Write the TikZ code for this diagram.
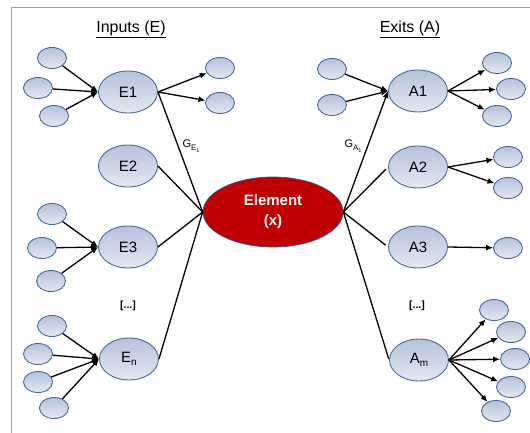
\documentclass[tikz,border=0pt]{standalone}
\usepackage{fontspec}
\setmainfont{Liberation Sans}
\usetikzlibrary{arrows.meta,shapes.geometric}
\definecolor{nodeedge}{HTML}{4A69A3}
\definecolor{nodetop}{HTML}{B6C2DA}
\definecolor{nodebot}{HTML}{E4E9F2}
\definecolor{elemred}{HTML}{C00000}
\definecolor{elemedge}{HTML}{3A4F8F}
\definecolor{frameblue}{HTML}{8AA3CC}
\newcommand{\gsub}[2]{G{\fontsize{8}{8}\selectfont\raisebox{-2.5pt}{#1\raisebox{-2pt}{\fontsize{5.5}{6}\selectfont #2}}}}
\begin{document}
\begin{tikzpicture}[x=1pt,y=-1pt,
  main/.style={ellipse, draw=nodeedge, line width=0.9pt, top color=nodetop, bottom color=nodebot,
    minimum width=59pt, minimum height=42pt, inner sep=0pt, font=\fontsize{15}{18}\selectfont},
  leaf/.style={ellipse, draw=nodeedge, line width=0.9pt, top color=nodetop, bottom color=nodebot,
    minimum width=29pt, minimum height=21pt, inner sep=0pt},
  centre/.style={ellipse, draw=elemedge, line width=0.7pt, fill=elemred, text=white,
    minimum width=140pt, minimum height=70pt, inner sep=0pt, align=center,
    font=\bfseries\fontsize{15}{20}\selectfont},
  title/.style={font=\fontsize{16}{18}\selectfont},
  gap/.style={font=\bfseries\fontsize{10.5}{12}\selectfont},
  glabel/.style={font=\fontsize{11}{12}\selectfont},
  link/.style={line width=1.3pt, black},
  arr/.style={link, -{Latex[length=7pt,width=6pt]}},
]
\useasboundingbox (0,0) rectangle (530,433);

% frame
\draw[frameblue, line width=1pt] (11,433) -- (11,8) -- (530,8);

% titles
\node[title] (tin) at (131,29) {\underline{Inputs (E)}};
\node[title] (tout) at (410,29) {\underline{Exits (A)}};

% central element
\node[centre] (X) at (273,212) {Element\\(x)};

% inputs
\node[main] (E1) at (128,92) {E1};
\node[main] (E2) at (128,166) {E2};
\node[main] (E3) at (128,247) {E3};
\node[main] (En) at (129,359) {E\raisebox{-3pt}{\fontsize{10}{10}\selectfont n}};
\node[gap] (edots) at (128,306) {[...]};

\node[leaf] (e1a) at (52,58) {};
\node[leaf] (e1b) at (38,88) {};
\node[leaf] (e1c) at (54,116) {};
\node[leaf] (e1o1) at (220,68) {};
\node[leaf] (e1o2) at (220,103) {};

\node[leaf] (e3a) at (52,214) {};
\node[leaf] (e3b) at (42,248) {};
\node[leaf] (e3c) at (51,281) {};

\node[leaf] (ena) at (52,326) {};
\node[leaf] (enb) at (38,354) {};
\node[leaf] (enc) at (38,382) {};
\node[leaf] (end) at (54,408) {};

% exits
\node[main] (A1) at (418,91) {A1};
\node[main] (A2) at (418,167) {A2};
\node[main] (A3) at (418,247) {A3};
\node[main] (Am) at (419,360) {A\raisebox{-3pt}{\fontsize{10}{10}\selectfont m}};
\node[gap] (adots) at (417,306) {[...]};

\node[leaf] (a1i1) at (332,69) {};
\node[leaf] (a1i2) at (332,105) {};
\node[leaf] (a1o1) at (497,63) {};
\node[leaf] (a1o2) at (511,89) {};
\node[leaf] (a1o3) at (497,116) {};

\node[leaf] (a2o1) at (508,157) {};
\node[leaf] (a2o2) at (508,188) {};

\node[leaf] (a3o1) at (508,248) {};

\node[leaf] (amo1) at (494,310) {};
\node[leaf] (amo2) at (511,332) {};
\node[leaf] (amo3) at (515,359) {};
\node[leaf] (amo4) at (511,387) {};
\node[leaf] (amo5) at (496,411) {};

% input side connectors
\foreach \s in {e1a,e1b,e1c} \draw[arr] (\s) -- (E1.west);
\foreach \t in {e1o1,e1o2} \draw[arr] (E1.east) -- (\t);
\foreach \s in {e3a,e3b,e3c} \draw[arr] (\s) -- (E3.west);
\foreach \s in {ena,enb,enc,end} \draw[arr] (\s) -- (En.west);

\draw[link] (E1.east) -- (X.west);
\draw[link] (E2.east) -- (X.west);
\draw[link] (E3.east) -- (X.west);
\draw[link] (En.east) -- (X.west);

% exit side connectors
\draw[arr] (X.east) -- (A1.west);
\draw[link, shorten >=3pt] (X.east) -- (A2.west);
\draw[link, shorten >=3pt] (X.east) -- (A3.west);
\draw[link, shorten >=1pt] (X.east) -- (Am.west);

\foreach \s in {a1i1,a1i2} \draw[arr] (\s) -- (A1.west);
\foreach \t in {a1o1,a1o2,a1o3} \draw[arr] (A1.east) -- (\t);
\foreach \t in {a2o1,a2o2} \draw[arr] (A2.east) -- (\t);
\draw[arr] (A3.east) -- (a3o1);
\foreach \t in {amo1,amo2,amo3,amo4,amo5} \draw[arr] (Am.east) -- (\t);

% gain labels
\node[glabel] (gE) at (191,146) {\gsub{E}{1}};
\node[glabel] (gA) at (353,146) {\gsub{A}{1}};
\end{tikzpicture}
\end{document}
